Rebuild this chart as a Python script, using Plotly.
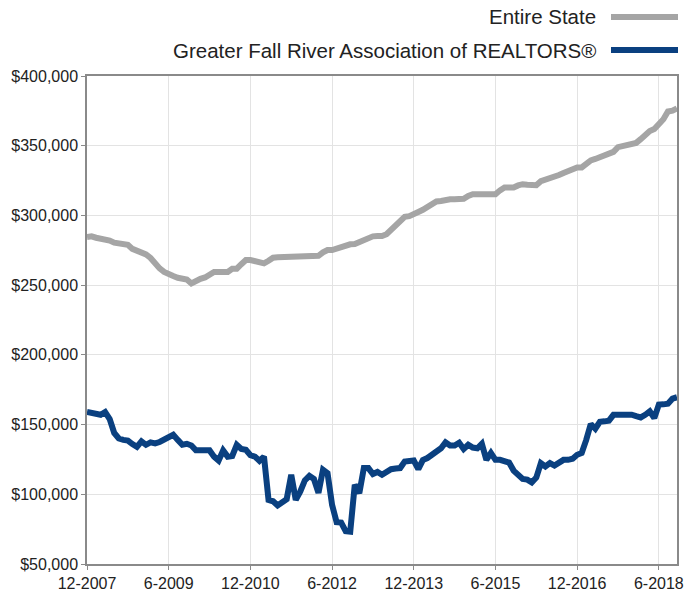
import plotly.graph_objects as go

tick_labels = ["12-2007", "6-2009", "12-2010", "6-2012", "12-2013", "6-2015", "12-2016", "6-2018"]
series_names = ["Entire State", "Greater Fall River Association of REALTORS®"]

# monthly median values, 12-2007 .. 10-2018 (thousands of $)
entire_state = [
    284.5, 285, 284, 283.4, 283.4, 282, 280.5, 280, 280, 279,
    276, 275, 274, 272, 269.5, 265, 262, 259.5, 257.5, 256.5,
    255.3, 254.5, 254, 251.2, 253.5, 254.5, 255.5, 258, 259.4, 259.4,
    259.4, 259.5, 261.8, 261.8, 265, 268, 268, 267.3, 267, 265.6,
    267.5, 269.7, 270, 270, 270, 270, 270, 270, 270, 270,
    270, 271, 273.5, 275.2, 275.2, 276.5, 277.6, 278.5, 279.3, 279.5,
    281, 281.6, 283, 285, 285.2, 285.2, 286.5, 289.5, 292, 295.5,
    299, 299.5, 300.5, 302.5, 304, 306, 308.5, 310, 310.4, 311.5,
    311.6, 311.6, 312, 312, 314, 315.2, 315.2, 315.2, 315.2, 315.2,
    315.2, 318, 320, 320, 320, 321.5, 322.4, 322, 321.7, 321.7,
    324.5, 325.5, 326, 327.5, 329, 330.5, 332, 333.5, 334.4, 334.4,
    337, 339.5, 340.5, 341.5, 343.2, 344.5, 345.6, 349, 349.8, 350,
    350.4, 352, 354.7, 358, 360.5, 362, 365, 369, 374.5, 375.1,
    376.8,
]
fall_river = [
    159, 158, 157.5, 157, 159, 154, 144, 140, 139, 138.5,
    136, 134, 138, 135.5, 137.2, 136.5, 137.5, 139.5, 141, 142.7,
    139, 135.5, 136.2, 135, 131.5, 131.5, 131.5, 131.5, 127, 124.2,
    131.4, 127, 127.5, 135.5, 132.5, 131.9, 128, 127, 124, 127,
    96, 95, 92, 94.5, 96.5, 114, 96, 102, 110, 113.2,
    111, 101, 117.6, 115.2, 92.4, 80, 79.7, 73.5, 73.2, 106.8,
    100.8, 118.8, 118.8, 114.5, 116, 114, 116, 118, 118.5, 118.8,
    123.5, 124.2, 124.2, 118.1, 124.5, 126, 128.5, 130.5, 133, 137.2,
    135, 135, 137, 132.5, 135.5, 133.5, 133, 136.2, 124.7, 129.6,
    124.7, 124.7, 123.5, 122.8, 117, 113.5, 111, 110.5, 108.5, 112,
    122.4, 120, 122.4, 120.6, 122.5, 124.7, 124.7, 125.5, 128.3, 129.6,
    139, 150.4, 147, 152, 152.3, 152.8, 157, 157, 156.6, 156.8,
    157.1, 156, 155.1, 157, 159.5, 154.7, 164.3, 164.5, 165, 168.6,
    169.6,
]

months = list(range(len(entire_state)))
tick_positions = [i * 18 for i in range(len(tick_labels))]
colors = ["#a5a5a5", "#0a4080"]

fig = go.Figure()
fig.add_trace(go.Scatter(x=months, y=[v * 1000 for v in entire_state], mode="lines",
                         line=dict(color=colors[0], width=6), name=series_names[0],
                         showlegend=False))
fig.add_trace(go.Scatter(x=months, y=[v * 1000 for v in fall_river], mode="lines",
                         line=dict(color=colors[1], width=6), name=series_names[1],
                         showlegend=False))

L, R, T, B = 87, 21, 76, 28
W, H = 698, 592
pw, ph = W - L - R, H - T - B

def px(x):
    return (x - L) / pw

def py(y):
    return (H - B - y) / ph

legend_rows = [17, 50]
for name, col, yy in zip(series_names, colors, legend_rows):
    fig.add_annotation(x=px(598), y=py(yy), xref="paper", yref="paper", text=name,
                       showarrow=False, xanchor="right", yanchor="middle",
                       font=dict(family="Liberation Sans, Arial", size=20.5, color="#222"))
    fig.add_shape(type="line", xref="paper", yref="paper", x0=px(611), x1=px(678),
                  y0=py(yy), y1=py(yy), line=dict(color=col, width=6))

fig.update_layout(
    width=W, height=H,
    margin=dict(l=L, r=R, t=T, b=B, autoexpand=False),
    paper_bgcolor="white", plot_bgcolor="white",
    font=dict(family="Liberation Sans, Arial", size=16, color="#222"),
    showlegend=False,
)
fig.update_xaxes(range=[0, len(months) - 1], tickvals=tick_positions, ticktext=tick_labels,
                 showgrid=True, gridcolor="#e3e3e3", gridwidth=1, automargin=False,
                 showline=True, linecolor="#8a8a8a", linewidth=1.5, mirror=True,
                 ticks="outside", ticklen=4, tickcolor="#8a8a8a", zeroline=False)
fig.update_yaxes(range=[50000, 400000], dtick=50000, tickformat="$,.0f",
                 showgrid=True, gridcolor="#e3e3e3", gridwidth=1, automargin=False,
                 showline=True, linecolor="#8a8a8a", linewidth=1.5, mirror=True,
                 ticks="outside", ticklen=4, tickcolor="#8a8a8a", zeroline=False)

fig.write_html("out.html", config={"displayModeBar": False},
               post_script="document.body.style.margin='0';")
